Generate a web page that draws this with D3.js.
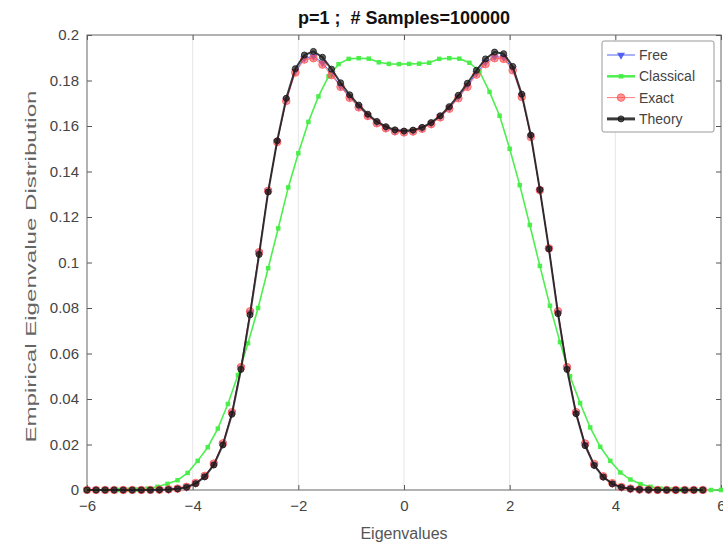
<!DOCTYPE html>
<html>
<head>
<meta charset="utf-8">
<script src="https://cdn.jsdelivr.net/npm/d3@7"></script>
<style>
  body { margin: 0; background: #fff; }
  text { font-family: "Liberation Sans", Arial, sans-serif; }
</style>
</head>
<body>
<script>
// histogram bin centres (free / exact / theory share one grid, classical has its own)
const binX = d3.range(69).map(k => -6 + k * 12 / 70);
const classX = d3.range(64).map(k => -6 + k * 12 / 63);

const freeY = [0,0,0,0,0,0,0,0,
  0.0001,0.0003,0.0006,0.0013,0.0030,0.0061,0.0114,0.0203,0.0339,0.0537,0.0780,0.1042,0.1314,0.1532,0.1714,0.1840,0.1898,0.1906,0.1878,0.1830,0.1776,0.1728,0.1685,0.1647,0.1615,0.1592,0.1578,0.1574,0.1578,0.1590,0.1611,0.1641,0.1680,0.1727,0.1778,0.1832,0.1880,0.1905,0.1902,0.1851,0.1734,0.1556,0.1319,0.1061,0.0780,0.0536,0.0338,0.0200,0.0111,0.0059,0.0029,0.0013,0.0005,0.0002,0.0001,
  0,0,0,0,0,0];

const exactY = [0,0,0,0,0,0,0,0,
  0.0001,0.0003,0.0006,0.0014,0.0031,0.0062,0.0116,0.0205,0.0342,0.0540,0.0785,0.1045,0.1315,0.1530,0.1710,0.1835,0.1892,0.1898,0.1870,0.1824,0.1772,0.1724,0.1682,0.1644,0.1612,0.1590,0.1577,0.1572,0.1576,0.1588,0.1608,0.1638,0.1676,0.1722,0.1772,0.1826,0.1872,0.1898,0.1895,0.1845,0.1728,0.1552,0.1318,0.1062,0.0786,0.0540,0.0342,0.0204,0.0114,0.0060,0.0030,0.0013,0.0006,0.0002,0.0001,
  0,0,0,0,0,0];

const theoryY = [0,0,0,0,0,0,0,0,
  0.0001,0.0002,0.0005,0.0012,0.0028,0.0058,0.0110,0.0198,0.0333,0.0530,0.0770,0.1035,0.1310,0.1535,0.1722,0.1852,0.1912,0.1928,0.1902,0.1850,0.1790,0.1737,0.1692,0.1652,0.1620,0.1597,0.1583,0.1578,0.1582,0.1594,0.1615,0.1645,0.1685,0.1735,0.1788,0.1845,0.1895,0.1925,0.1918,0.1862,0.1740,0.1560,0.1320,0.1060,0.0775,0.0530,0.0335,0.0195,0.0108,0.0057,0.0027,0.0012,0.0005,0.0002,0.0001,
  0,0,0,0,0,0];

const classicalY = [0,0,0,0,0.0001,0.0002,0.0006,0.0014,0.0027,0.0043,0.0075,0.0128,0.0188,0.0270,0.0378,0.0505,0.0645,0.0800,0.0975,0.1150,0.1330,0.1480,0.1618,0.1730,0.1818,0.1872,0.1895,0.1898,0.1896,0.1880,0.1873,0.1872,0.1873,0.1874,0.1878,0.1895,0.1898,0.1896,0.1878,0.1840,0.1750,0.1645,0.1500,0.1340,0.1165,0.0985,0.0810,0.0650,0.0500,0.0382,0.0275,0.0190,0.0128,0.0077,0.0046,0.0026,0.0014,0.0006,0.0002,0.0001,0,0,0,0];

const xTicks = [-6, -4, -2, 0, 2, 4, 6];
const yTicks = [0, 0.02, 0.04, 0.06, 0.08, 0.1, 0.12, 0.14, 0.16, 0.18, 0.2];
const legendNames = ["Free", "Classical", "Exact", "Theory"];

const W = 723, H = 548;
const margin = {top: 35, right: 2, bottom: 58, left: 87};

const svg = d3.select("body").append("svg")
    .attr("width", W)
    .attr("height", H);

const x = d3.scaleLinear().domain([-6, 6]).range([margin.left, W - margin.right]);
const y = d3.scaleLinear().domain([0, 0.2]).range([H - margin.bottom, margin.top]);

svg.append("defs").append("clipPath").attr("id", "clip")
  .append("rect")
    .attr("x", x(-6) - 4).attr("y", y(0.2))
    .attr("width", x(6) - x(-6) + 8).attr("height", y(0) - y(0.2) + 4);

svg.append("defs").append("filter").attr("id", "soft")
  .append("feGaussianBlur").attr("stdDeviation", 0.6);

// faint vertical grid
svg.append("g")
  .selectAll("line")
  .data(xTicks.slice(1, -1))
  .join("line")
    .attr("x1", d => x(d)).attr("x2", d => x(d))
    .attr("y1", y(0)).attr("y2", y(0.2))
    .attr("stroke", "#e6e6e6")
    .attr("stroke-width", 1);

// axes (matlab style: ticks inward on all sides)
const tickCol = "#555";
svg.append("g")
    .attr("transform", `translate(0,${y(0)})`)
    .call(d3.axisBottom(x).tickValues(xTicks).tickSize(-5).tickPadding(10).tickFormat(d3.format("d")))
    .call(g => g.select(".domain").remove());
svg.append("g")
    .attr("transform", `translate(0,${y(0.2)})`)
    .call(d3.axisTop(x).tickValues(xTicks).tickSize(-5).tickFormat(""))
    .call(g => g.select(".domain").remove());
svg.append("g")
    .attr("transform", `translate(${x(-6)},0)`)
    .call(d3.axisLeft(y).tickValues(yTicks).tickSize(-5).tickPadding(8).tickFormat(d => d === 0 ? "0" : String(+d.toFixed(2))))
    .call(g => g.select(".domain").remove());
svg.append("g")
    .attr("transform", `translate(${x(6)},0)`)
    .call(d3.axisRight(y).tickValues(yTicks).tickSize(-5).tickFormat(""))
    .call(g => g.select(".domain").remove());

svg.selectAll(".tick line").attr("stroke", tickCol);
svg.selectAll(".tick text")
    .attr("fill", "#444")
    .style("font-size", "15px");

svg.append("rect")
    .attr("x", x(-6)).attr("y", y(0.2))
    .attr("width", x(6) - x(-6)).attr("height", y(0) - y(0.2))
    .attr("fill", "none")
    .attr("stroke", "#666")
    .attr("stroke-width", 1);

// series
const plot = svg.append("g").attr("clip-path", "url(#clip)").attr("filter", "url(#soft)");
const line = d3.line().x(d => x(d[0])).y(d => y(d[1]));

const series = [
  {name: "Free", xs: binX, ys: freeY, color: "#4455ee", width: 1, marker: "tri", size: 4, opacity: 0.9},
  {name: "Classical", xs: classX, ys: classicalY, color: "#44ee44", width: 1.6, marker: "sq", size: 4.5, opacity: 0.95},
  {name: "Exact", xs: binX, ys: exactY, color: "#ff5050", width: 1, marker: "circ", size: 3.8, opacity: 0.75},
  {name: "Theory", xs: binX, ys: theoryY, color: "#1a1a1a", width: 2, marker: "circ", size: 3, opacity: 0.85}
];

function drawMarker(g, s, px, py) {
  if (s.marker === "circ") {
    g.append("circle").attr("cx", px).attr("cy", py).attr("r", s.size)
      .attr("fill", s.color).attr("fill-opacity", s.opacity * 0.8)
      .attr("stroke", s.color).attr("stroke-opacity", s.opacity);
  } else if (s.marker === "sq") {
    g.append("rect").attr("x", px - s.size / 2).attr("y", py - s.size / 2)
      .attr("width", s.size).attr("height", s.size)
      .attr("fill", s.color).attr("opacity", s.opacity);
  } else {
    g.append("path")
      .attr("d", d3.symbol(d3.symbolTriangle, 28)())
      .attr("transform", `translate(${px},${py}) rotate(180)`)
      .attr("fill", s.color).attr("opacity", s.opacity);
  }
}

series.forEach(s => {
  const pts = s.xs.map((v, i) => [v, s.ys[i]]);
  const g = plot.append("g");
  g.append("path")
      .datum(pts)
      .attr("d", line)
      .attr("fill", "none")
      .attr("stroke", s.color)
      .attr("stroke-opacity", s.opacity)
      .attr("stroke-width", s.width);
  pts.forEach(p => drawMarker(g, s, x(p[0]), y(p[1])));
});

// legend
const lg = svg.append("g").attr("transform", "translate(602,41)");
lg.append("rect")
    .attr("width", 112).attr("height", 91)
    .attr("fill", "#fff")
    .attr("stroke", "#999")
    .attr("rx", 2);
const lgInner = lg.append("g").attr("filter", "url(#soft)");
legendNames.forEach((n, i) => {
  const s = series.find(d => d.name === n);
  const ly = 14 + i * 21.3;
  lgInner.append("line")
      .attr("x1", 5).attr("x2", 33).attr("y1", ly).attr("y2", ly)
      .attr("stroke", s.color).attr("stroke-opacity", s.opacity)
      .attr("stroke-width", s.name === "Theory" ? 3 : (s.name === "Classical" ? 2.5 : s.width));
  drawMarker(lgInner, s, 19, ly);
  lg.append("text")
      .attr("x", 37).attr("y", ly + 5)
      .attr("fill", "#444")
      .style("font-size", "14px")
      .text(n);
});

// title and labels
svg.append("text")
    .attr("x", x(0)).attr("y", 24)
    .attr("text-anchor", "middle")
    .style("font-size", "18px")
    .style("font-weight", "bold")
    .style("white-space", "pre")
    .attr("fill", "#111")
    .text("p=1 ;  # Samples=100000");

svg.append("text")
    .attr("x", x(0)).attr("y", 539)
    .attr("text-anchor", "middle")
    .style("font-size", "16px")
    .attr("fill", "#555")
    .text("Eigenvalues");

svg.append("text")
    .attr("transform", `translate(36,${(y(0) + y(0.2)) / 2 + 4}) rotate(-90)`)
    .attr("text-anchor", "middle")
    .style("font-size", "15px")
    .attr("textLength", 352)
    .attr("lengthAdjust", "spacingAndGlyphs")
    .attr("fill", "#666")
    .text("Empirical Eigenvalue Distribution");
</script>
</body>
</html>
